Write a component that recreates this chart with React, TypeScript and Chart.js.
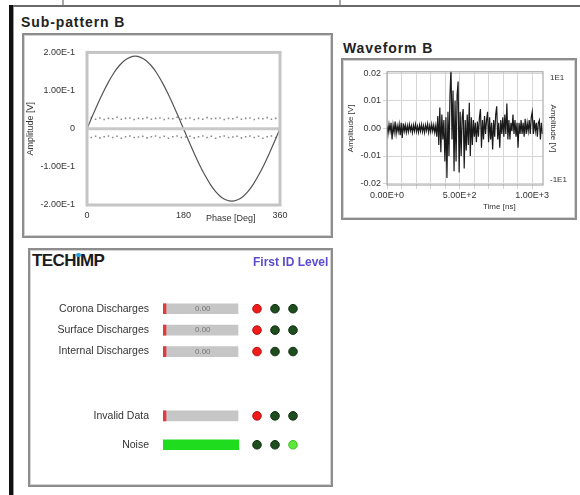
import React, { useEffect, useRef } from "react";
import { Chart, registerables } from "chart.js";
Chart.register(...registerables);

const FONT = "'Liberation Sans', Arial, sans-serif";
Chart.defaults.font.family = FONT;

// ---------- Sub-pattern B ----------
const phaseDeg = [0,10,20,30,40,50,60,70,80,90,100,110,120,130,140,150,160,170,180,190,200,210,220,230,240,250,260,270,280,290,300,310,320,330,340,350,360];
const sineAmp = [0,0.033,0.065,0.095,0.122,0.146,0.165,0.179,0.187,0.19,0.187,0.179,0.165,0.146,0.122,0.095,0.065,0.033,0,-0.033,-0.065,-0.095,-0.122,-0.146,-0.165,-0.179,-0.187,-0.19,-0.187,-0.179,-0.165,-0.146,-0.122,-0.095,-0.065,-0.033,0];
const noisePhase = [0,8,16,24,32,40,48,56,64,72,80,88,96,104,112,120,128,136,144,152,160,168,176,184,192,200,208,216,224,232,240,248,256,264,272,280,288,296,304,312,320,328,336,344,352,360];
const noiseUpper = [0.026,0.029,0.025,0.028,0.024,0.027,0.026,0.03,0.025,0.027,0.028,0.024,0.027,0.026,0.029,0.025,0.027,0.028,0.024,0.027,0.026,0.03,0.025,0.027,0.028,0.024,0.027,0.025,0.029,0.026,0.027,0.028,0.024,0.027,0.026,0.03,0.025,0.027,0.028,0.024,0.027,0.026,0.029,0.025,0.027,0.028];
const noiseLower = [-0.019,-0.023,-0.02,-0.024,-0.021,-0.019,-0.023,-0.02,-0.025,-0.021,-0.019,-0.023,-0.022,-0.02,-0.024,-0.021,-0.019,-0.023,-0.02,-0.025,-0.021,-0.019,-0.023,-0.022,-0.02,-0.024,-0.021,-0.019,-0.023,-0.02,-0.025,-0.021,-0.019,-0.023,-0.022,-0.02,-0.024,-0.021,-0.019,-0.023,-0.02,-0.025,-0.021,-0.019,-0.023,-0.022];
const zeroLinePhase = [0, 360];
const subYTicks = [0.2, 0.1, 0, -0.1, -0.2];
const subYTickLabels = ["2.00E-1", "1.00E-1", "0", "-1.00E-1", "-2.00E-1"];
const subXTicks = [0, 180, 360];

// ---------- Waveform B ----------
const waveStepNs = 7;
const waveAmp = [
  0.001,-0.002,0.0015,-0.001,0.002,-0.004,0.0012,-0.0015,0.0025,-0.002,
  0.001,-0.0012,0.0015,-0.0025,0.002,-0.0035,0.0018,-0.001,0.0012,-0.0015,
  0.001,-0.0012,0.0014,-0.0008,0.001,-0.0015,0.0012,-0.001,0.0015,-0.0012,
  0.0008,-0.0014,0.0012,-0.001,0.0014,-0.0012,0.001,-0.0015,0.0012,-0.0008,
  0.0016,-0.0014,0.001,-0.0012,0.0015,-0.001,0.0012,-0.0015,0.001,
  -0.003,0.0045,-0.006,0.0076,-0.0086,0.005,-0.004,0.003,-0.012,0.004,
  -0.018,0.006,-0.01,0.012,0.022,-0.004,0.0137,-0.0155,0.01,-0.012,
  0.012,0.017,-0.016,0.006,-0.01,0.004,0.007,-0.0145,0.003,-0.008,
  0.005,-0.006,0.0093,-0.01,0.004,-0.006,0.003,-0.003,0.002,-0.005,
  0.0025,-0.003,0.004,0.007,-0.007,0.003,-0.004,0.0045,-0.002,0.003,
  0.006,-0.005,0.004,-0.004,0.002,-0.0076,0.003,-0.003,0.005,0.008,
  -0.004,0.002,-0.007,0.003,-0.002,0.004,-0.003,0.005,-0.002,0.009,
  -0.004,0.003,-0.004,0.002,-0.001,0.005,-0.002,0.003,-0.003,0.002,
  -0.007,0.002,-0.002,0.003,-0.002,0.002,-0.003,0.0035,-0.002,0.002,
  -0.001,0.003,-0.002,0.004,0.006,-0.002,0.003,-0.001,0.002,-0.003,
  0.002,0.003,-0.004,0.002,-0.002
];
const waveXTicks = [0,100,200,300,400,500,600,700,800,900,1000];
const waveXLabels: Record<number, string> = { 0: "0.00E+0", 500: "5.00E+2", 1000: "1.00E+3" };
const waveYTicks = [0.02, 0.01, 0, -0.01, -0.02];
const waveY2Ticks = [10, -10];
const waveY2Labels = ["1E1", "-1E1"];

// ---------- Status panel ----------
const statusLabels = ["Corona Discharges", "Surface Discharges", "Internal Discharges", "Invalid Data", "Noise"];
const statusRowPos = [0, 1, 2, 5, 6.35];
const statusLevel = [0.04, 0.04, 0.04, 0.04, 1.01];
const statusFull = [1, 1, 1, 1, 1];
const statusText = ["0.00", "0.00", "0.00", "", ""];
const statusLevelColor = ["#e23a3a", "#e23a3a", "#e23a3a", "#e23a3a", "#1fdc1f"];
const ledColumns = [1, 2, 3];
const ledStates = [
  ["red", "off", "off"],
  ["red", "off", "off"],
  ["red", "off", "off"],
  ["red", "off", "off"],
  ["off", "off", "on"],
];
const ledFill: Record<string, string> = { red: "#f01b1b", off: "#1e4d1e", on: "#5fe83c" };
const ledEdge: Record<string, string> = { red: "#b31212", off: "#0f2f0f", on: "#3dbb22" };

const plotBox = (color: string, width: number) => ({
  id: "plotBox",
  afterDraw(chart: any) {
    const { ctx, chartArea: a } = chart;
    ctx.save();
    ctx.strokeStyle = color;
    ctx.lineWidth = width;
    ctx.strokeRect(a.left, a.top, a.right - a.left, a.bottom - a.top);
    ctx.restore();
  },
});

const statusTextPlugin = {
  id: "statusText",
  afterDatasetsDraw(chart: any) {
    const { ctx } = chart;
    const xs = chart.scales.x;
    const ys = chart.scales.y;
    ctx.save();
    ctx.font = "8px " + FONT;
    ctx.fillStyle = "#777";
    ctx.textAlign = "center";
    ctx.textBaseline = "middle";
    statusText.forEach((t, i) => {
      if (!t) return;
      ctx.fillText(t, xs.getPixelForValue(0.53), ys.getPixelForValue(statusRowPos[i]));
    });
    ctx.restore();
  },
};

function ChartBox({ config, left, top, width, height }: { config: () => any; left: number; top: number; width: number; height: number }) {
  const ref = useRef<HTMLCanvasElement | null>(null);
  useEffect(() => {
    const chart = new Chart(ref.current as HTMLCanvasElement, config());
    return () => chart.destroy();
  }, []);
  return (
    <div style={{ position: "absolute", left, top, width, height }}>
      <canvas ref={ref} width={width} height={height} style={{ width, height, display: "block" }} />
    </div>
  );
}

const tickFont = { size: 9, family: FONT };

const subConfig = () => ({
  type: "line",
  data: {
    datasets: [
      {
        data: zeroLinePhase.map((p) => ({ x: p, y: 0 })),
        borderColor: "#c9c9c9",
        borderWidth: 3,
        pointRadius: 0,
      },
      {
        data: phaseDeg.map((p, i) => ({ x: p, y: sineAmp[i] })),
        borderColor: "#555",
        borderWidth: 1.2,
        pointRadius: 0,
        tension: 0.35,
      },
      {
        type: "scatter",
        data: noisePhase.map((p, i) => ({ x: p, y: noiseUpper[i] })),
        pointRadius: 1.1,
        pointStyle: "rect",
        backgroundColor: "#8a8a8a",
        borderWidth: 0,
      },
      {
        type: "scatter",
        data: noisePhase.map((p, i) => ({ x: p, y: noiseLower[i] })),
        pointRadius: 1.1,
        pointStyle: "rect",
        backgroundColor: "#8a8a8a",
        borderWidth: 0,
      },
    ],
  },
  options: {
    animation: false,
    responsive: false,
    maintainAspectRatio: false,
    layout: { padding: { top: 12, right: 50, left: 0, bottom: 0 } },
    plugins: { legend: { display: false }, tooltip: { enabled: false } },
    scales: {
      x: {
        type: "linear",
        min: 0,
        max: 360,
        afterBuildTicks: (s: any) => { s.ticks = subXTicks.map((v) => ({ value: v })); },
        afterFit: (s: any) => { s.height = 30; },
        ticks: { font: tickFont, color: "#333", padding: 5, maxRotation: 0, autoSkip: false },
        grid: { display: false, drawTicks: false },
        border: { display: false },
      },
      y: {
        type: "linear",
        min: -0.2,
        max: 0.2,
        afterBuildTicks: (s: any) => { s.ticks = subYTicks.map((v) => ({ value: v })); },
        afterFit: (s: any) => { s.width = 63; },
        ticks: {
          font: tickFont,
          color: "#333",
          padding: 12,
          autoSkip: false,
          callback: (v: number) => subYTickLabels[subYTicks.indexOf(v)] ?? "",
        },
        grid: { display: false, drawTicks: false },
        border: { display: false },
        title: { display: true, text: "Amplitude [V]", font: { size: 9, family: FONT }, color: "#333", padding: { top: 1, bottom: 0 } },
      },
    },
  },
  plugins: [plotBox("#c4c4c4", 3)],
});

const waveConfig = () => ({
  type: "line",
  data: {
    datasets: [
      {
        data: waveAmp.map((v, i) => ({ x: i * waveStepNs, y: v })),
        borderColor: "#1a1a1a",
        borderWidth: 1.2,
        pointRadius: 0,
        yAxisID: "y",
      },
    ],
  },
  options: {
    animation: false,
    responsive: false,
    maintainAspectRatio: false,
    layout: { padding: { top: 6, right: 0, left: 0, bottom: 0 } },
    plugins: { legend: { display: false }, tooltip: { enabled: false } },
    scales: {
      x: {
        type: "linear",
        min: 0,
        max: 1075,
        afterBuildTicks: (s: any) => { s.ticks = waveXTicks.map((v) => ({ value: v })); },
        afterFit: (s: any) => { s.height = 33; },
        ticks: {
          font: tickFont,
          color: "#333",
          padding: 1,
          maxRotation: 0,
          autoSkip: false,
          callback: (v: number) => waveXLabels[v] ?? "",
        },
        grid: { color: "#d6d6d6", tickLength: 4 },
        border: { display: false },
      },
      y: {
        type: "linear",
        position: "left",
        min: -0.0205,
        max: 0.0205,
        afterBuildTicks: (s: any) => { s.ticks = waveYTicks.map((v) => ({ value: v })); },
        afterFit: (s: any) => { s.width = 44; },
        ticks: { font: tickFont, color: "#333", padding: 2, autoSkip: false, callback: (v: number) => v.toFixed(2) },
        grid: { color: "#d6d6d6", tickLength: 4 },
        border: { display: false },
        title: { display: true, text: "Amplitude [V]", font: { size: 8, family: FONT }, color: "#333", padding: { top: 3, bottom: 0 } },
      },
      y2: {
        type: "linear",
        position: "right",
        min: -11.1,
        max: 11.1,
        afterBuildTicks: (s: any) => { s.ticks = waveY2Ticks.map((v) => ({ value: v })); },
        afterFit: (s: any) => { s.width = 32; },
        ticks: {
          font: { size: 8, family: FONT },
          color: "#333",
          padding: 7,
          autoSkip: false,
          callback: (v: number) => waveY2Labels[waveY2Ticks.indexOf(v)] ?? "",
        },
        grid: { display: false, drawTicks: false },
        border: { display: false },
        title: { display: true, text: "Amplitude [V]", font: { size: 8, family: FONT }, color: "#333", padding: { top: 17, bottom: 0 } },
      },
    },
  },
  plugins: [plotBox("#9a9a9a", 1)],
});

const statusConfig = () => {
  const ledData: any[] = [];
  const ledBg: string[] = [];
  const ledBd: string[] = [];
  statusRowPos.forEach((p, r) => {
    ledColumns.forEach((c, k) => {
      ledData.push({ x: c, y: p });
      ledBg.push(ledFill[ledStates[r][k]]);
      ledBd.push(ledEdge[ledStates[r][k]]);
    });
  });
  return {
    type: "bar",
    data: {
      datasets: [
        {
          data: statusRowPos.map((p, i) => ({ x: statusLevel[i], y: p })),
          backgroundColor: statusLevelColor,
          barThickness: 10,
          grouped: false,
          xAxisID: "x",
          yAxisID: "y",
        },
        {
          data: statusRowPos.slice(0, 4).map((p, i) => ({ x: statusFull[i], y: p })),
          backgroundColor: "#c6c6c6",
          barThickness: 10,
          grouped: false,
          xAxisID: "x",
          yAxisID: "y",
        },
        {
          type: "scatter",
          indexAxis: "x",
          data: ledData,
          xAxisID: "led",
          yAxisID: "y",
          pointRadius: 4.3,
          pointBackgroundColor: ledBg,
          pointBorderColor: ledBd,
          pointBorderWidth: 1,
          clip: false,
        },
      ],
    },
    options: {
      animation: false,
      responsive: false,
      maintainAspectRatio: false,
      indexAxis: "y",
      layout: { padding: { top: 25.5, right: 31, left: 0, bottom: 10 } },
      plugins: { legend: { display: false }, tooltip: { enabled: false } },
      scales: {
        x: { type: "linear", min: 0, max: 1.8267, display: false, offset: false },
        led: { type: "linear", axis: "x", position: "bottom", min: -4.222, max: 3.389, display: false, offset: false },
        y: {
          type: "linear",
          reverse: true,
          offset: false,
          min: -1.55,
          max: 7.28,
          afterBuildTicks: (s: any) => { s.ticks = statusRowPos.map((v) => ({ value: v })); },
          afterFit: (s: any) => { s.width = 133; },
          ticks: {
            font: { size: 10.5, family: FONT },
            color: "#333",
            padding: 14,
            autoSkip: false,
            callback: (_v: number, i: number) => statusLabels[i],
          },
          grid: { display: false, drawTicks: false, offset: false },
          border: { display: false },
        },
      },
    },
    plugins: [statusTextPlugin],
  };
};

const boxStyle = (left: number, top: number, width: number, height: number): React.CSSProperties => ({
  position: "absolute",
  left,
  top,
  width: width - 4,
  height: height - 4,
  border: "2px solid #8d8d8d",
  boxShadow: "inset 0 0 0 1px #d4d4d4",
  background: "#fff",
});

const titleStyle = (left: number, top: number): React.CSSProperties => ({
  position: "absolute",
  left,
  top,
  fontSize: 14,
  fontWeight: 700,
  letterSpacing: 0.9,
  color: "#222",
  whiteSpace: "nowrap",
  lineHeight: "16px",
});

export default function App() {
  return (
    <div style={{ position: "absolute", left: 0, top: 0, width: 580, height: 495, overflow: "hidden", background: "#fff", fontFamily: FONT }}>
      {/* frame lines */}
      <div style={{ position: "absolute", left: 62, top: 0, width: 2, height: 6, background: "#a8a8a8" }} />
      <div style={{ position: "absolute", left: 339, top: 0, width: 2, height: 6, background: "#a8a8a8" }} />
      <div style={{ position: "absolute", left: 9, top: 5, width: 571, height: 2, background: "#6a6a6a" }} />
      <div style={{ position: "absolute", left: 9, top: 5, width: 4, height: 490, background: "#111" }} />
      <div style={{ position: "absolute", left: 13, top: 7, width: 1, height: 488, background: "#9a9a9a" }} />

      {/* Sub-pattern B */}
      <div style={titleStyle(21, 14)}>Sub-pattern B</div>
      <div style={boxStyle(22, 33, 311, 205)} />
      <ChartBox config={subConfig} left={24} top={35} width={306} height={200} />
      <div style={{ position: "absolute", left: 206, top: 213, fontSize: 9, color: "#333", whiteSpace: "nowrap" }}>Phase [Deg]</div>

      {/* Waveform B */}
      <div style={titleStyle(343, 40)}>Waveform B</div>
      <div style={boxStyle(341, 58, 236, 162)} />
      <ChartBox config={waveConfig} left={343} top={60} width={232} height={158} />
      <div style={{ position: "absolute", left: 483, top: 202, fontSize: 8, color: "#333", whiteSpace: "nowrap" }}>Time [ns]</div>

      {/* Status panel */}
      <div style={boxStyle(28, 248, 305, 239)} />
      <div style={{ position: "absolute", left: 32, top: 251, fontSize: 17, fontWeight: 700, color: "#1c1c1c", letterSpacing: -0.6, whiteSpace: "nowrap" }}>
        TECH<span style={{ position: "relative" }}>I<span style={{ position: "absolute", left: 0, top: 2, width: 5, height: 4, background: "#2a9ee0", borderRadius: 2 }} /></span>MP
      </div>
      <div style={{ position: "absolute", left: 253, top: 255, width: 78, overflow: "hidden", fontSize: 12, fontWeight: 700, color: "#5a4bd0", whiteSpace: "nowrap" }}>First ID Level</div>
      <ChartBox config={statusConfig} left={30} top={250} width={301} height={235} />
    </div>
  );
}
